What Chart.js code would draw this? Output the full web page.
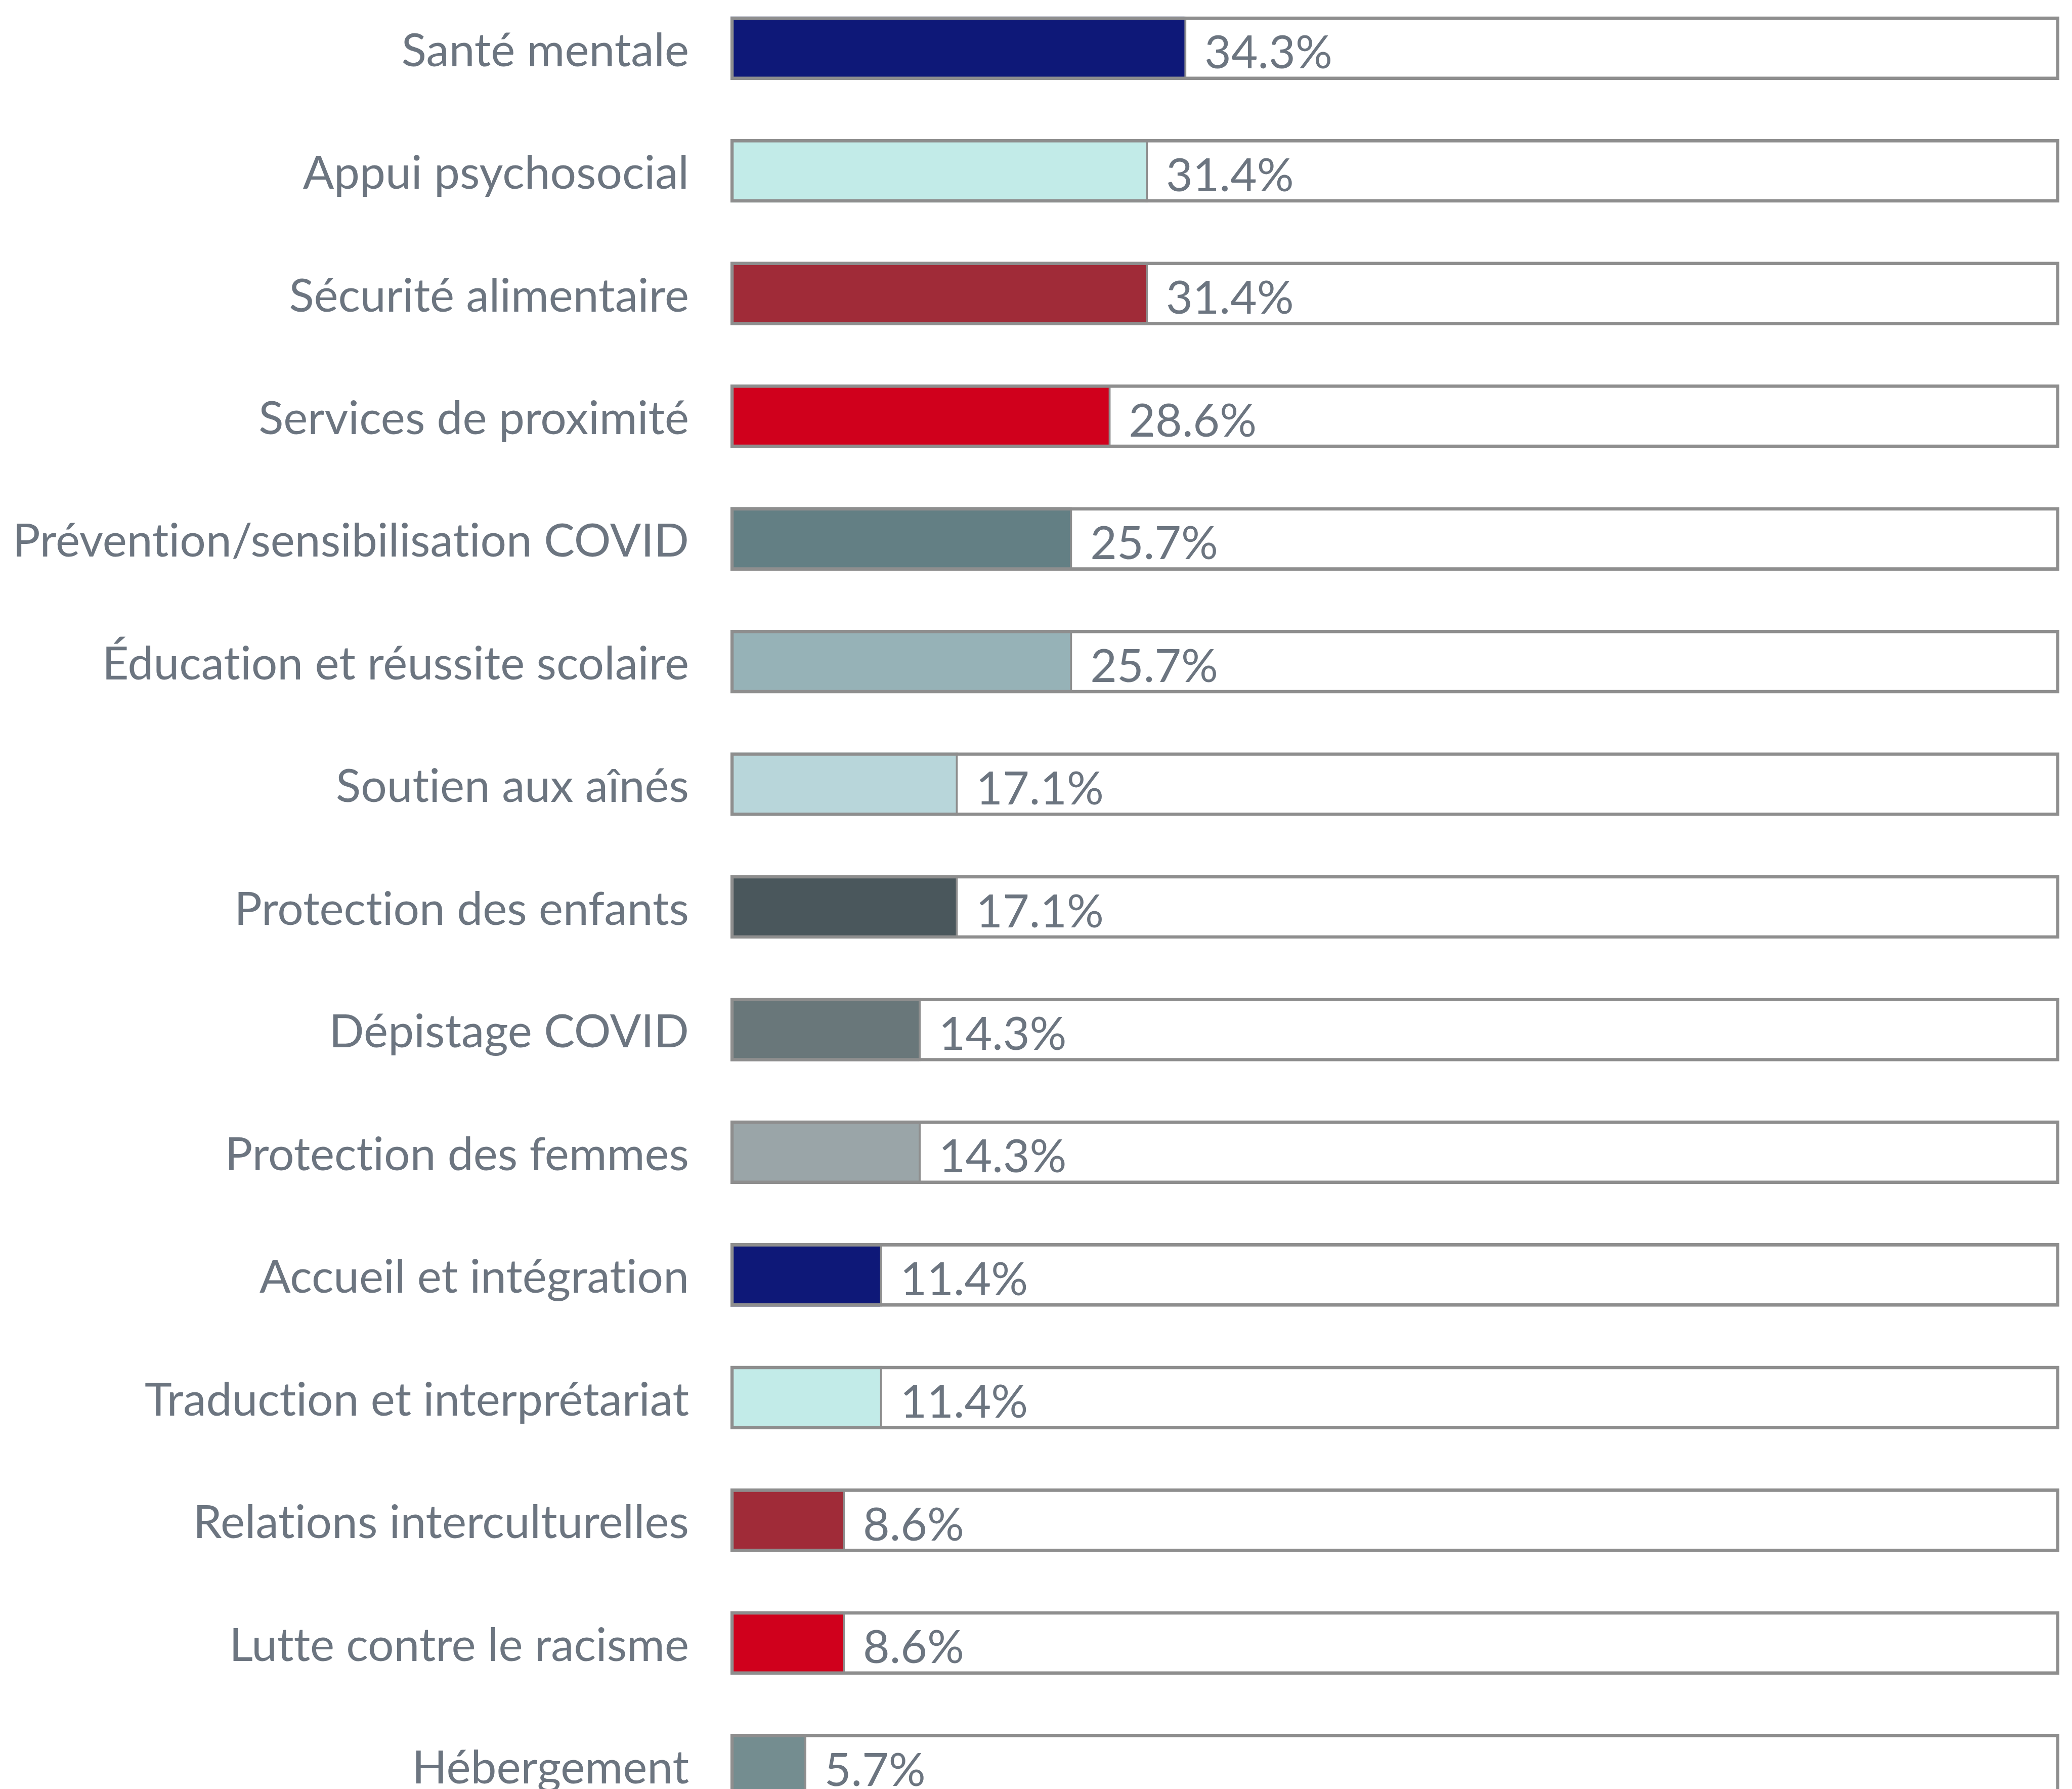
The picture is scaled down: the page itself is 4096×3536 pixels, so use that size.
<!DOCTYPE html>
<html>
<head>
<meta charset="utf-8">
<script src="https://cdn.jsdelivr.net/npm/chart.js@4.4.1/dist/chart.umd.min.js"></script>
<style>
  html, body { margin: 0; padding: 0; background: #ffffff; overflow: hidden; width: 4096px; height: 3536px; }
  #wrap { position: absolute; left: 0; top: -26px; width: 4096px; height: 3637px; }
</style>
</head>
<body>
<div id="wrap"><canvas id="themesChart" width="4096" height="3637"></canvas></div>
<script>
// Thèmes des projets (% des organismes)
const categories = [
  "Santé mentale",
  "Appui psychosocial",
  "Sécurité alimentaire",
  "Services de proximité",
  "Prévention/sensibilisation COVID",
  "Éducation et réussite scolaire",
  "Soutien aux aînés",
  "Protection des enfants",
  "Dépistage COVID",
  "Protection des femmes",
  "Accueil et intégration",
  "Traduction et interprétariat",
  "Relations interculturelles",
  "Lutte contre le racisme",
  "Hébergement"
];
const values = [34.3, 31.4, 31.4, 28.6, 25.7, 25.7, 17.1, 17.1, 14.3, 14.3, 11.4, 11.4, 8.6, 8.6, 5.7];
const trackValues = [100, 100, 100, 100, 100, 100, 100, 100, 100, 100, 100, 100, 100, 100, 100];
const barColors = [
  "#0e1878", "#c2ebe8", "#a02b38", "#d0001c", "#637f84",
  "#96b2b7", "#b8d6da", "#4a575c", "#69777a", "#9aa5a8",
  "#0e1878", "#c2ebe8", "#a02b38", "#d0001c", "#748d90"
];

const textColor = "#6c7580";
const frameColor = "#8e8e8e";

// no "ti" ligatures, like the original
const plainText = {
  id: "plainText",
  beforeDraw(chart) {
    chart.ctx.textRendering = "optimizeSpeed";
  }
};

// draws "34.3%" just right of each coloured bar
const valueLabels = {
  id: "valueLabels",
  afterDatasetsDraw(chart) {
    const ctx = chart.ctx;
    const meta = chart.getDatasetMeta(1);
    ctx.save();
    ctx.font = "91px Lato";
    ctx.fillStyle = textColor;
    ctx.textAlign = "left";
    ctx.textBaseline = "alphabetic";
    meta.data.forEach((bar, i) => {
      ctx.fillText(values[i].toFixed(1) + "%", bar.x + 36, bar.y + 40);
    });
    ctx.restore();
  }
};

new Chart(document.getElementById("themesChart"), {
  type: "bar",
  data: {
    labels: categories,
    datasets: [{
      label: "cadre",
      data: trackValues,
      backgroundColor: "rgba(0,0,0,0)",
      borderColor: frameColor,
      borderWidth: 6,
      borderSkipped: false,
      order: 0
    }, {
      label: "%",
      data: values,
      backgroundColor: barColors,
      borderColor: frameColor,
      borderWidth: { top: 0, bottom: 0, left: 0, right: 4 },
      borderSkipped: false,
      order: 1
    }]
  },
  options: {
    indexAxis: "y",
    responsive: false,
    animation: false,
    devicePixelRatio: 1,
    layout: { padding: { left: 0, right: 25, top: 0, bottom: 0 } },
    datasets: {
      bar: { grouped: false, barThickness: 125 }
    },
    plugins: {
      legend: { display: false },
      tooltip: { enabled: false }
    },
    scales: {
      x: {
        display: false,
        min: 0,
        max: 100
      },
      y: {
        grid: { display: false, drawTicks: false },
        border: { display: false },
        ticks: {
          autoSkip: false,
          padding: 82,
          labelOffset: 6,
          color: textColor,
          font: { family: "Lato", size: 91 }
        },
        afterFit(scale) {
          // fixed label column, no extra room above/below the bars
          scale.width = 1444;
          scale.paddingTop = 0;
          scale.paddingBottom = 0;
        }
      }
    }
  },
  plugins: [plainText, valueLabels]
});
</script>
</body>
</html>
